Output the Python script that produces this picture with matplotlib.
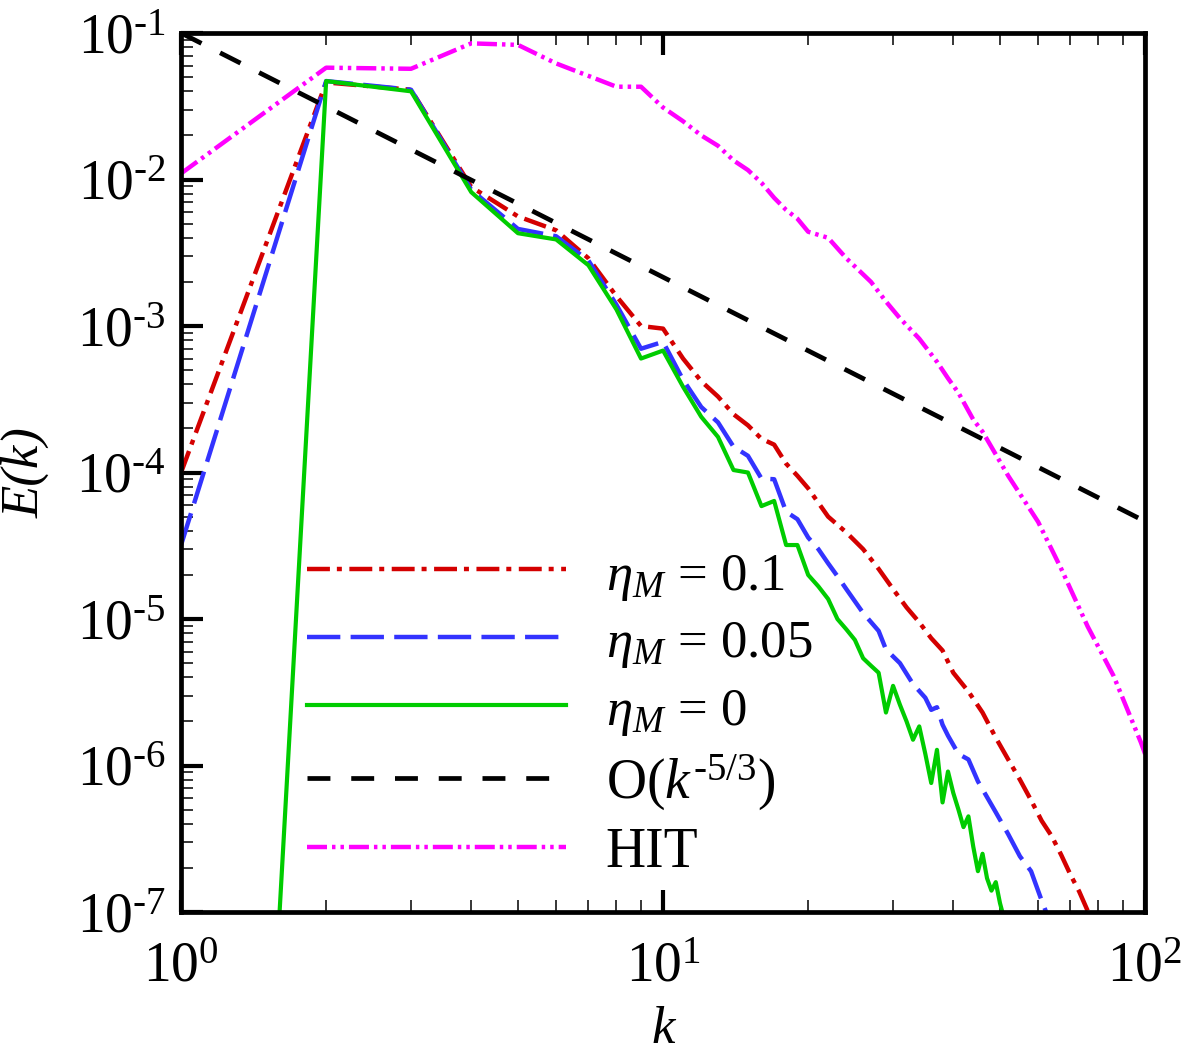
import numpy as np
import matplotlib.pyplot as plt
from matplotlib.ticker import LogLocator, NullFormatter, FuncFormatter

plt.rcParams['font.family'] = 'Liberation Serif'
plt.rcParams['mathtext.fontset'] = 'custom'
plt.rcParams['mathtext.rm'] = 'Liberation Serif'
plt.rcParams['mathtext.it'] = 'Liberation Serif:italic'
plt.rcParams['mathtext.bf'] = 'Liberation Serif:bold'
plt.rcParams['lines.scale_dashes'] = False

# energy spectra
k_red = [1, 2, 3, 4, 5, 6, 7, 8, 9, 10, 11, 12, 13, 14, 15, 16, 17, 18, 19, 20,
         22, 24, 26, 28, 30, 32, 34, 36, 38, 40, 43, 46, 49, 52, 55, 58, 61, 64,
         67, 70, 73, 76, 78]
E_red = [1.0e-4, 0.046, 0.041, 8.9e-3, 5.6e-3, 4.5e-3, 2.9e-3, 1.6e-3, 1.0e-3, 9.6e-4,
         6.0e-4, 4.2e-4, 3.3e-4, 2.5e-4, 2.1e-4, 1.7e-4, 1.55e-4, 1.15e-4, 9.5e-5, 7.8e-5,
         5.0e-5, 3.9e-5, 3.0e-5, 2.2e-5, 1.6e-5, 1.2e-5, 9.5e-6, 7.4e-6, 6.1e-6, 4.3e-6,
         3.2e-6, 2.3e-6, 1.55e-6, 1.1e-6, 8.0e-7, 5.8e-7, 4.2e-7, 3.3e-7,
         2.45e-7, 1.8e-7, 1.38e-7, 1.02e-7, 8.5e-8]

k_blue = [1, 2, 3, 4, 5, 6, 7, 8, 9, 10, 11, 12, 13, 14, 15, 16, 17, 18, 19, 20,
          21, 22, 23, 24, 26, 28, 29, 31, 33, 35, 36, 37, 38, 39, 41, 43, 45, 48,
          49, 52, 55, 58, 61, 64]
E_blue = [3.2e-5, 0.047, 0.041, 8.5e-3, 4.6e-3, 4.1e-3, 2.8e-3, 1.4e-3, 7.0e-4, 7.8e-4,
          4.3e-4, 2.8e-4, 2.2e-4, 1.5e-4, 1.3e-4, 9.1e-5, 9.0e-5, 5.4e-5, 4.8e-5, 3.6e-5,
          3.0e-5, 2.4e-5, 1.96e-5, 1.6e-5, 1.1e-5, 8.3e-6, 6.2e-6, 5.0e-6, 3.6e-6, 2.9e-6,
          2.4e-6, 2.5e-6, 1.9e-6, 1.6e-6, 1.2e-6, 1.1e-6, 7.8e-7, 5.4e-7,
          4.8e-7, 3.4e-7, 2.4e-7, 1.9e-7, 1.2e-7, 8.0e-8]

k_green = list(range(1, 52))
E_green = [1e-19, 0.047, 0.040, 8.2e-3, 4.3e-3, 3.9e-3, 2.6e-3, 1.3e-3, 6.0e-4, 6.8e-4,
           3.85e-4, 2.4e-4, 1.75e-4, 1.04e-4, 1.0e-4, 5.9e-5, 6.4e-5, 3.2e-5, 3.2e-5, 2.0e-5,
           1.67e-5, 1.37e-5, 1.0e-5, 8.5e-6, 7.2e-6, 5.4e-6, 4.8e-6, 4.3e-6, 2.3e-6, 3.5e-6,
           2.6e-6, 2.0e-6, 1.5e-6, 1.85e-6, 1.2e-6, 7.6e-7, 1.28e-6, 5.6e-7, 9.1e-7, 6.5e-7,
           5.0e-7, 3.8e-7, 4.5e-7, 2.8e-7, 1.9e-7, 2.5e-7, 1.7e-7, 1.4e-7, 1.6e-7, 1.15e-7,
           9.0e-8]

k_ref = [1, 100]
E_ref = [0.1, 4.64e-5]

k_hit = [1, 2, 3, 4, 5, 6, 7, 8, 9, 10, 11, 12, 13, 14, 15, 16, 17, 18, 19, 20,
         22, 24, 27, 29, 31, 34, 37, 39, 41, 44, 46, 52, 60, 67, 76, 86, 98, 100]
E_hit = [0.011, 0.058, 0.057, 0.085, 0.083, 0.062, 0.051, 0.043, 0.043, 0.031,
         0.025, 0.020, 0.017, 0.0135, 0.0116, 0.0095, 0.0075, 0.0062, 0.0054, 0.0044,
         0.0040, 0.0029, 0.0020, 0.00147, 0.00113, 8.2e-4, 5.7e-4, 4.4e-4, 3.5e-4, 2.3e-4,
         1.9e-4, 9.5e-5, 4.6e-5, 2.2e-5, 8.9e-6, 4.1e-6, 1.44e-6, 1.2e-6]

x_ticks = [1, 10, 100]
y_ticks = [1e-7, 1e-6, 1e-5, 1e-4, 1e-3, 1e-2, 1e-1]

labels = [r'$\eta_M$ = 0.1', r'$\eta_M$ = 0.05', r'$\eta_M$ = 0',
          r'O($k^{\text{-5/3}}$)', 'HIT']


def pow10(v, pos):
    n = int(round(np.log10(v)))
    if n < 0:
        return r'$\mathdefault{10^{\text{-%d}}}$' % (-n)
    return r'$\mathdefault{10^{%d}}$' % n


fig = plt.figure(figsize=(11.81, 10.55), dpi=100)
ax = fig.add_axes([0.1533, 0.1355, 0.8163, 0.8332])

ax.plot(k_red, E_red, color='#d40000', lw=3.2, dashes=(16.5, 5, 3.6, 5.4), label=labels[0])
ax.plot(k_blue, E_blue, color='#3333ff', lw=3.2, dashes=(24, 7.4), label=labels[1])
ax.plot(k_green, E_green, color='#00cc00', lw=3.0, label=labels[2])
ax.plot(k_ref, E_ref, color='black', lw=3.4, dashes=(16.5, 15), label=labels[3])
ax.plot(k_hit, E_hit, color='#ff00ff', lw=3.2, dashes=(14.4, 3.6, 2.5, 3.6, 2.5, 3.6),
        label=labels[4])

ax.set_xscale('log')
ax.set_yscale('log')
ax.set_xlim(1, 100)
ax.set_ylim(1e-7, 1e-1)

ax.set_xticks(x_ticks)
ax.set_yticks(y_ticks)
ax.xaxis.set_minor_locator(LogLocator(base=10, subs=np.arange(2, 10), numticks=20))
ax.yaxis.set_minor_locator(LogLocator(base=10, subs=np.arange(2, 10), numticks=20))
ax.xaxis.set_major_formatter(FuncFormatter(pow10))
ax.yaxis.set_major_formatter(FuncFormatter(pow10))
ax.xaxis.set_minor_formatter(NullFormatter())
ax.yaxis.set_minor_formatter(NullFormatter())

ax.tick_params(which='major', direction='in', length=16, width=3, top=True, right=False,
               labelsize=40)
ax.tick_params(axis='x', which='major', pad=21)
ax.tick_params(axis='y', which='major', pad=11)
ax.tick_params(which='minor', direction='in', length=8.5, width=1.1, top=True, right=False)
for sp in ax.spines.values():
    sp.set_linewidth(3.4)

ax.set_xlabel('k', fontsize=38, style='italic')
ax.set_ylabel('E(k)', fontsize=38, style='italic')
ax.xaxis.set_label_coords(0.5, -0.107)
ax.yaxis.set_label_coords(-0.136, 0.5)

leg = ax.legend(loc='center left', bbox_to_anchor=(0.131, 0.2245), frameon=False,
                fontsize=30, handlelength=6.2, handletextpad=0.96, handleheight=1.6,
                labelspacing=0.34, borderpad=0, borderaxespad=0)
for i, t in enumerate(leg.get_texts()):
    t.set_fontsize(38 if i < 3 else 40)

fig.savefig('out.png', dpi=100)
